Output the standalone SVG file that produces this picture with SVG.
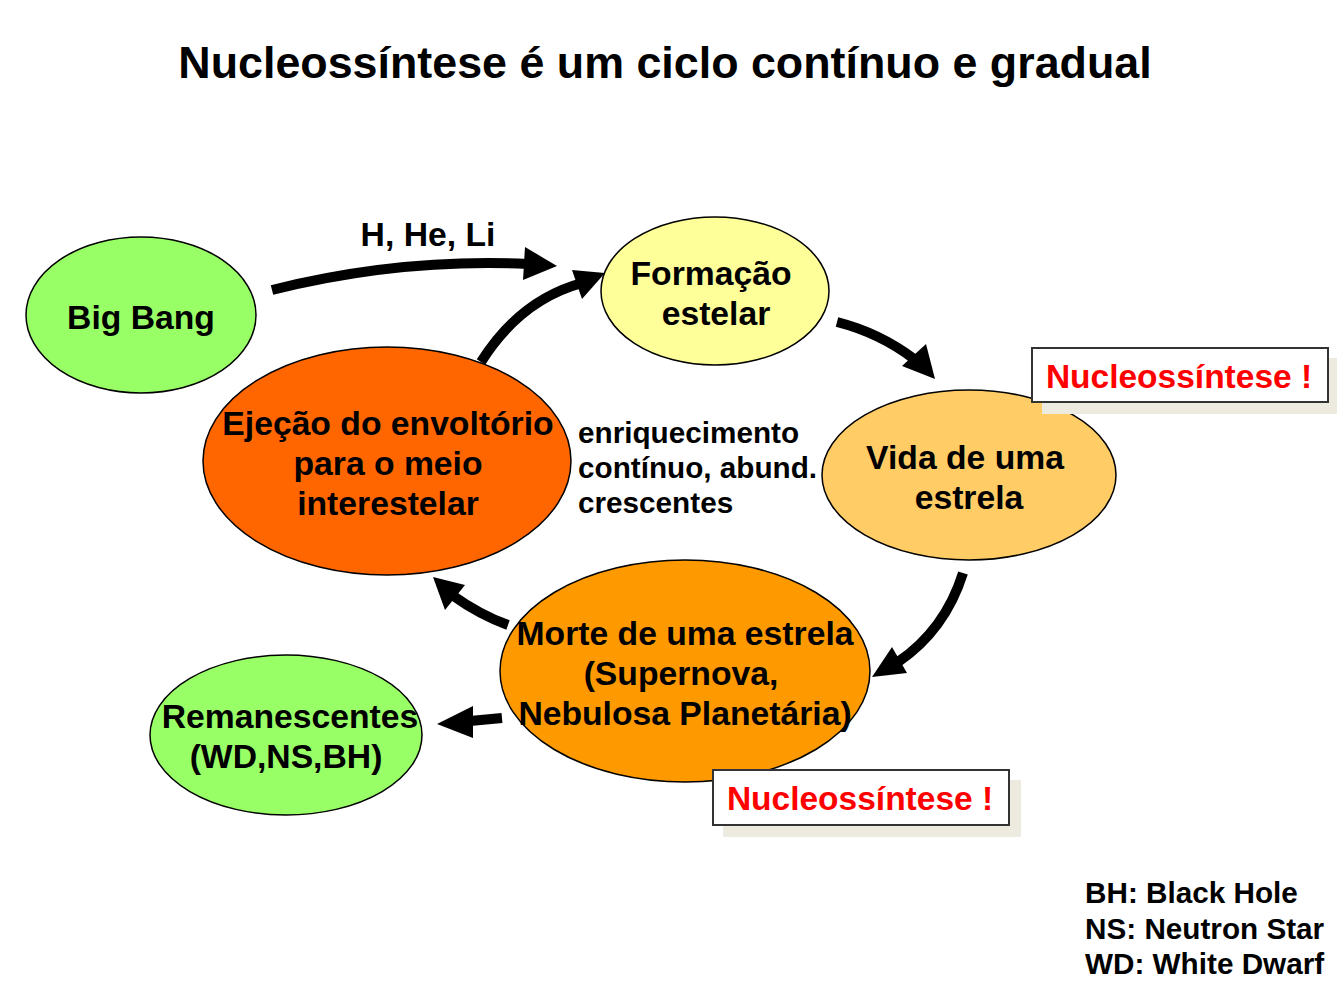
<svg xmlns="http://www.w3.org/2000/svg" width="1337" height="999" viewBox="0 0 1337 999">
<style>
text{font-family:"Liberation Sans",Arial,sans-serif;font-weight:bold;fill:#000}
.t{font-size:44.8px}
.n{font-size:33.7px;text-anchor:middle}
.s{font-size:29.7px}
.red{font-size:33.5px;fill:#FF0000;text-anchor:middle}
.node ellipse{stroke:#000;stroke-width:1.5}
.shaft{fill:none;stroke:#000;stroke-width:10}
.head{fill:#000}
.box{fill:#fff;stroke:#333;stroke-width:2}
.shadow{fill:#EDEBE0}
</style>
<rect width="1337" height="999" fill="#fff"/>
<text class="t" x="665" y="78" text-anchor="middle">Nucleossíntese é um ciclo contínuo e gradual</text>

<g id="bigbang" class="node">
<ellipse cx="141" cy="315" rx="115" ry="78" fill="#99FF66"/>
<text class="n" x="141" y="329">Big Bang</text>
</g>
<g id="formacao" class="node">
<ellipse cx="715" cy="291" rx="114" ry="74" fill="#FFFF99"/>
<text class="n" x="711" y="285">Formação</text>
<text class="n" x="716" y="325">estelar</text>
</g>
<g id="vida" class="node">
<ellipse cx="969" cy="475" rx="147" ry="85" fill="#FFCC66"/>
<text class="n" x="965" y="469">Vida de uma</text>
<text class="n" x="969" y="509">estrela</text>
</g>
<g id="ejecao" class="node">
<ellipse cx="387" cy="461" rx="184" ry="114" fill="#FF6600"/>
<text class="n" x="388" y="435">Ejeção do envoltório</text>
<text class="n" x="388" y="475">para o meio</text>
<text class="n" x="388" y="515">interestelar</text>
</g>
<g id="morte" class="node">
<ellipse cx="685" cy="671" rx="185" ry="111" fill="#FF9900"/>
<text class="n" x="685" y="645">Morte de uma estrela</text>
<text class="n" x="681" y="685">(Supernova,</text>
<text class="n" x="685" y="725">Nebulosa Planetária)</text>
</g>
<g id="remanescentes" class="node">
<ellipse cx="286" cy="735" rx="136" ry="80" fill="#99FF66"/>
<text class="n" x="290" y="728">Remanescentes</text>
<text class="n" x="286" y="768">(WD,NS,BH)</text>
</g>

<g id="connectors">
<path class="shaft" d="M272,290 Q400,258 528,264"/>
<polygon class="head" points="525,247 557,266 523,280"/>
<path class="shaft" d="M481,362 Q520,300 582,283"/>
<polygon class="head" points="572,270 605,273 582,299"/>
<path class="shaft" d="M837,322 Q880,333 914,359"/>
<polygon class="head" points="902,366 926,344 935,379"/>
<path class="shaft" d="M963,573 Q945,630 898,662"/>
<polygon class="head" points="892,647 872,677 907,673"/>
<path class="shaft" d="M508,625 Q480,615 452,595"/>
<polygon class="head" points="433,577 445,610 465,585"/>
<path class="shaft" d="M502,718 L470,721"/>
<polygon class="head" points="437,724 473,706 473,738"/>
<text class="n" x="428" y="246">H, He, Li</text>
</g>

<g id="enriquecimento">
<text class="s" x="578" y="443">enriquecimento</text>
<text class="s" x="578" y="478">contínuo, abund.</text>
<text class="s" x="578" y="513">crescentes</text>
</g>

<g id="nucleo1">
<rect class="shadow" x="1042" y="358" width="296" height="56"/>
<rect class="box" x="1032" y="348" width="296" height="54"/>
<text class="red" x="1179" y="388">Nucleossíntese !</text>
</g>
<g id="nucleo2">
<rect class="shadow" x="723" y="780" width="298" height="57"/>
<rect class="box" x="713" y="770" width="296" height="55"/>
<text class="red" x="860" y="810">Nucleossíntese !</text>
</g>

<g id="legend">
<text class="s" x="1085" y="903">BH: Black Hole</text>
<text class="s" x="1085" y="939">NS: Neutron Star</text>
<text class="s" x="1085" y="974">WD: White Dwarf</text>
</g>
</svg>
